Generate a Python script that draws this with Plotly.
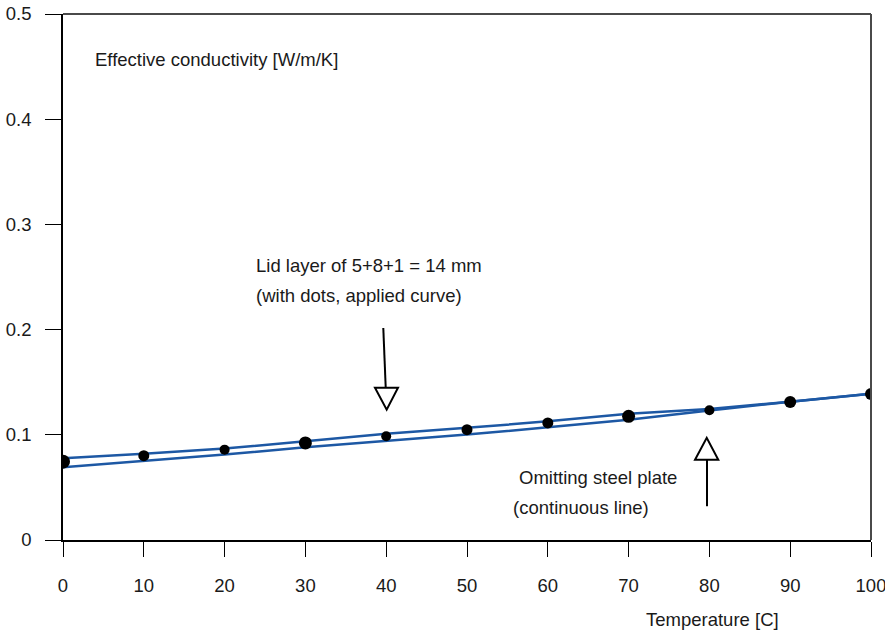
import plotly.graph_objects as go

# Temperature grid [C]
temperature = [0, 10, 20, 30, 40, 50, 60, 70, 80, 90, 100]

# Effective conductivity [W/m/K]
# lid layer 5+8+1 = 14 mm (applied curve)
k_lid_layer = [0.0777, 0.0819, 0.0869, 0.0938, 0.1009, 0.1066, 0.1128, 0.1201, 0.1246, 0.1315, 0.1391]
# measured dots on the applied curve
k_lid_dots = [0.0745, 0.0802, 0.0859, 0.0923, 0.0986, 0.1049, 0.1113, 0.1176, 0.1233, 0.1312, 0.1388]
# omitting steel plate (continuous line)
k_no_steel = [0.0691, 0.0748, 0.0812, 0.0881, 0.0938, 0.1002, 0.1071, 0.1144, 0.1230, 0.1315, 0.1391]

x_ticks = [0, 10, 20, 30, 40, 50, 60, 70, 80, 90, 100]
y_ticks = [0, 0.1, 0.2, 0.3, 0.4, 0.5]
y_tick_labels = ["0", "0.1", "0.2", "0.3", "0.4", "0.5"]

BLUE = "#1d58a4"
FONT = "Liberation Sans, Arial, sans-serif"

fig = go.Figure()
fig.add_trace(go.Scatter(x=temperature, y=k_lid_layer, mode="lines",
                         line=dict(color=BLUE, width=2.5), showlegend=False))
fig.add_trace(go.Scatter(x=temperature, y=k_no_steel, mode="lines",
                         line=dict(color=BLUE, width=2.5), showlegend=False))
fig.add_trace(go.Scatter(x=temperature, y=k_lid_dots, mode="markers",
                         marker=dict(color="black", opacity=1, line=dict(width=0),
                                     size=[14, 11, 10, 13, 10, 11, 11, 13, 10, 12, 12]),
                         showlegend=False))

# frame: top and right edges in dark grey
fig.add_shape(type="line", xref="paper", yref="paper", x0=0, x1=1, y0=1, y1=1,
              line=dict(color="#4a4a4a", width=2))
fig.add_shape(type="line", xref="paper", yref="paper", x0=1, x1=1, y0=0, y1=1,
              line=dict(color="#4a4a4a", width=2))

# open-headed pointer arrows
arrow_line = dict(color="black", width=2)
fig.add_shape(type="line", x0=39.64, y0=0.2015, x1=39.94, y1=0.1448, line=arrow_line)
fig.add_shape(type="path", path="M 38.61 0.1448 L 41.46 0.1448 L 40.06 0.1239 Z",
              line=arrow_line, fillcolor="white")
fig.add_shape(type="line", x0=79.70, y0=0.0321, x1=79.70, y1=0.0762, line=arrow_line)
fig.add_shape(type="path", path="M 78.22 0.0762 L 81.10 0.0762 L 79.67 0.0971 Z",
              line=arrow_line, fillcolor="white")

txt = dict(family=FONT, size=18.5, color="#1a1a1a")
notes = [
    (3.71, 0.4563, "Effective conductivity [W/m/K]"),
    (23.64, 0.2607, "Lid layer of 5+8+1 = 14 mm"),
    (23.64, 0.2322, "(with dots, applied curve)"),
    (56.2, 0.0598, "Omitting steel plate"),
    (55.5, 0.0313, "(continuous line)"),
]
for nx, ny, label in notes:
    fig.add_annotation(x=nx, y=ny, xref="x", yref="y", text=label, showarrow=False,
                       xanchor="left", yanchor="middle", font=txt)
fig.add_annotation(x=71.9, y=-0.151, xref="x", yref="paper", text="Temperature [C]",
                   showarrow=False, xanchor="left", yanchor="middle", font=txt)

fig.update_xaxes(range=[0, 100], tickvals=x_ticks, ticks="outside", ticklen=15,
                 tickwidth=1, tickcolor="black", showline=True, linecolor="black",
                 linewidth=1.5, showgrid=False, zeroline=False, automargin=False,
                 tickfont=txt, ticklabelstandoff=13, ticklabeloverflow="allow")
fig.update_yaxes(range=[0, 0.5], tickvals=y_ticks, ticktext=y_tick_labels,
                 ticks="outside", ticklen=16, tickwidth=1, tickcolor="black",
                 showline=True, linecolor="black", linewidth=1.5, showgrid=False,
                 zeroline=False, automargin=False, tickfont=txt, ticklabelstandoff=10,
                 ticklabeloverflow="allow")

fig.update_layout(width=885, height=635, plot_bgcolor="white", paper_bgcolor="white",
                  margin=dict(l=63, r=14, t=14, b=94.5), showlegend=False,
                  font=dict(family=FONT))

fig.write_html("out.html")
